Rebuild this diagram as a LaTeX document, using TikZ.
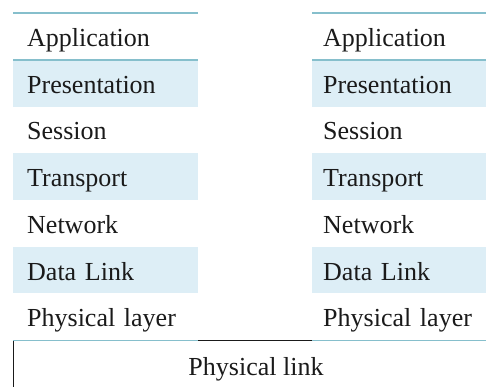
\documentclass[tikz,border=0pt]{standalone}
\usepackage{fontspec}
\setmainfont{Liberation Serif}
\definecolor{rowfill}{HTML}{DDEEF6}
\definecolor{rulecol}{HTML}{86BFCC}
\definecolor{ink}{HTML}{1A1A1A}
\tikzset{
  layer/.style={anchor=north west, minimum height=46.7pt, inner ysep=0pt,
    align=left, text height=22pt, text depth=2pt, text=ink,
    font=\fontsize{26}{30}\selectfont},
  leftcol/.style={layer, inner xsep=14pt, text width=157pt},
  rightcol/.style={layer, inner xsep=11pt, text width=163pt},
  rulel/.style={draw=rulecol, line width=1.2pt},
  linkbox/.style={draw=ink, line width=1pt, anchor=north west, minimum width=486pt,
    minimum height=60pt, inner sep=0pt, text height=22pt, text depth=2pt, text=ink,
    font=\fontsize{26}{30}\selectfont}
}
\begin{document}
\begin{tikzpicture}[x=1pt,y=-1pt]
\useasboundingbox (0,0) rectangle (486,387);
\clip (0,0) rectangle (486,387);
\node[linkbox] (link) at (13,340) {};
\node[text=ink, font=\fontsize{26}{30}\selectfont, anchor=base] (linktext) at (256,375) {Physical link};
\foreach \i/\t/\f in {1/Application/white, 2/Presentation/rowfill, 3/Session/white,
  4/Transport/rowfill, 5/Network/white, 6/Data Link/rowfill, 7/Physical layer/white}{
  \node[leftcol, fill=\f] (L\i) at (13,{13+46.7*(\i-1)}) {\t};
  \node[rightcol, fill=\f] (R\i) at (312,{13+46.7*(\i-1)}) {\t};
}
\foreach \c in {L,R}{
  \draw[rulel] (\c1.north west) -- (\c1.north east);
  \draw[rulel] (\c1.south west) -- (\c1.south east);
  \draw[rulel] (\c7.south west) -- (\c7.south east);
}
\end{tikzpicture}
\end{document}
